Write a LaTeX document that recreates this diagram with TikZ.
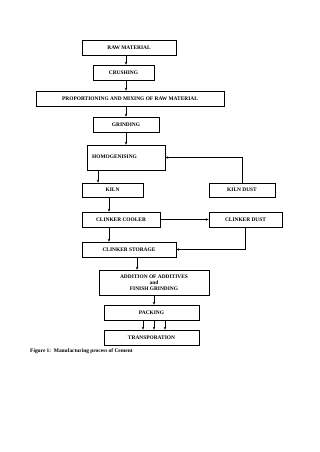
\documentclass[tikz,border=0pt]{standalone}
\usepackage{fontspec}
\setmainfont{Liberation Serif}
\usetikzlibrary{arrows.meta}
\begin{document}
\begin{tikzpicture}[x=1pt,y=-1pt,
  box/.style={draw,line width=0.5pt,inner sep=0pt,minimum height=15pt,font=\bfseries\fontsize{5.4}{6.2}\selectfont,align=center},
  arr/.style={line width=0.5pt,-{Stealth[length=3pt,width=2.4pt]}},
  lbl/.style={inner sep=0pt,font=\bfseries\fontsize{5.4}{6.2}\selectfont}]
\useasboundingbox (0,0) rectangle (320,452);
\fill[white] (0,0) rectangle (320,452);
\node[box,minimum width=94pt] (raw) at (129,47.5) {RAW MATERIAL};
\node[box,minimum width=61pt] (crush) at (123.5,72.5) {CRUSHING};
\node[box,minimum width=188pt] (prop) at (130,98.5) {PROPORTIONING AND MIXING OF RAW MATERIAL};
\node[box,minimum width=66pt] (grind) at (126,124.5) {GRINDING};
\node[box,minimum width=78pt,minimum height=25pt] (homog) at (126,157.5) {};
\node[lbl,anchor=west] (homogt) at (92,157) {HOMOGENISING};
\node[box,minimum width=61pt,minimum height=14pt] (kiln) at (112.5,190) {KILN};
\node[box,minimum width=66pt,minimum height=14pt] (kdust) at (242,190) {KILN DUST};
\node[box,minimum width=78pt] (cool) at (121,219.5) {CLINKER COOLER};
\node[box,minimum width=73pt] (cdust) at (245.5,219.5) {CLINKER DUST};
\node[box,minimum width=94pt] (stor) at (129,249.5) {CLINKER STORAGE};
\node[box,minimum width=110pt,minimum height=25pt] (add) at (154,282.5) {ADDITION OF ADDITIVES\\and\\FINISH GRINDING};
\node[box,minimum width=95pt] (pack) at (151.5,312.5) {PACKING};
\node[box,minimum width=95pt] (trans) at (151.5,337.5) {TRANSPORATION};
\node[lbl,anchor=west] (cap) at (30,351) {Figure 1:\ \ Manufacturing process of Cement};
\coordinate (xa) at (126,0);
\coordinate (xb) at (98,0);
\coordinate (xc) at (109,0);
\coordinate (xd) at (137,0);
\coordinate (xe) at (154,0);
\coordinate (xf) at (143,0);
\coordinate (xg) at (165,0);
\draw[arr] (raw.south -| xa) -- (crush.north -| xa);
\draw[arr] (crush.south -| xa) -- (prop.north -| xa);
\draw[arr] (prop.south -| xa) -- (grind.north -| xa);
\draw[arr] (grind.south -| xa) -- (homog.north -| xa);
\draw[arr] (homog.south -| xb) -- (kiln.north -| xb);
\draw[arr] (kdust.north) |- (homog.east);
\draw[arr] (kiln.south -| xc) -- (cool.north -| xc);
\draw[arr] (cool.east) -- (cdust.west);
\draw[arr] (cool.south -| xc) -- (stor.north -| xc);
\draw[arr] (cdust.south) |- (stor.east);
\draw[arr] (stor.south -| xd) -- (add.north -| xd);
\draw[arr] (add.south -| xe) -- (pack.north -| xe);
\draw[arr] (pack.south -| xf) -- (trans.north -| xf);
\draw[arr] (pack.south -| xe) -- (trans.north -| xe);
\draw[arr] (pack.south -| xg) -- (trans.north -| xg);
\end{tikzpicture}
\end{document}
